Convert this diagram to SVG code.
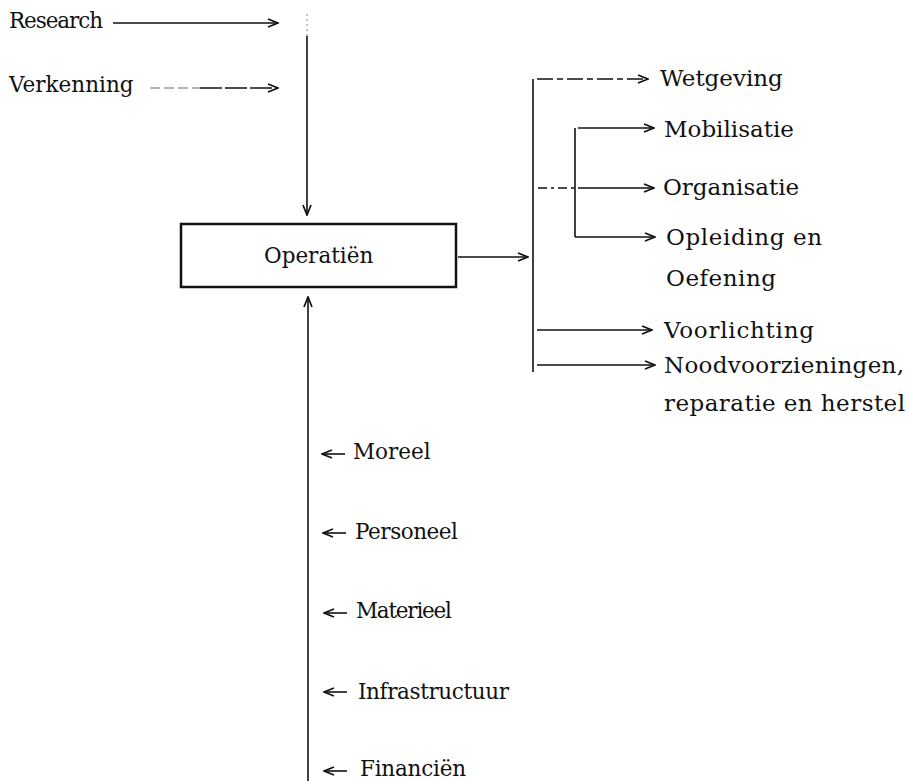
<svg xmlns="http://www.w3.org/2000/svg" width="909" height="781" viewBox="0 0 909 781">
  <defs>
    <marker id="head" viewBox="0 0 12 10" refX="11" refY="5" markerWidth="12" markerHeight="10" markerUnits="userSpaceOnUse" orient="auto">
      <polyline points="1,1 11,5 1,9" fill="none" stroke="#111" stroke-width="1.7" stroke-linejoin="miter"/>
    </marker>
  </defs>
  <style>
    text { font-family: "DejaVu Serif", "Liberation Serif", serif; font-size: 21.5px; fill: #111; }
    .big { font-size: 23px; }
    .ln { stroke: #111; stroke-width: 1.6; fill: none; }
    .arr { stroke: #111; stroke-width: 1.6; fill: none; marker-end: url(#head); }
    .box { fill: #fff; stroke: #111; stroke-width: 2.5; }
  </style>
  <rect width="909" height="781" fill="#fff"/>

  <!-- connectors -->
  <g id="connectors">
    <!-- inputs from the top -->
    <line class="arr" x1="113" y1="23" x2="278" y2="23"/>
    <line x1="150" y1="88" x2="200" y2="88" stroke="#999" stroke-width="1.4" stroke-dasharray="10 4"/>
    <line class="arr" x1="200" y1="88" x2="278" y2="88" stroke-dasharray="22 3"/>
    <line x1="307" y1="14" x2="307" y2="36" stroke="#aaa" stroke-width="1.4" stroke-dasharray="2 3"/>
    <line class="arr" x1="307" y1="36" x2="307" y2="215"/>
    <!-- inputs from below -->
    <line class="arr" x1="308" y1="781" x2="308" y2="297"/>
    <line class="arr" x1="345" y1="454" x2="322" y2="454"/>
    <line class="arr" x1="346" y1="533" x2="323" y2="533"/>
    <line class="arr" x1="347" y1="613" x2="324" y2="613"/>
    <line class="arr" x1="347" y1="692" x2="324" y2="692"/>
    <line class="arr" x1="347" y1="771" x2="324" y2="771"/>
    <!-- output to the bracket -->
    <line class="arr" x1="458" y1="257" x2="528" y2="257"/>
    <line class="ln" x1="533" y1="79" x2="533" y2="372"/>
    <line class="ln" x1="575" y1="128" x2="575" y2="237"/>
    <line class="arr" x1="537" y1="79" x2="648" y2="79" stroke-dasharray="16 4 6 4"/>
    <line class="arr" x1="578" y1="128" x2="654" y2="128"/>
    <line class="ln" x1="538" y1="188" x2="574" y2="188" stroke-dasharray="9 4 3 4"/>
    <line class="arr" x1="578" y1="188" x2="654" y2="188"/>
    <line class="arr" x1="575" y1="237" x2="655" y2="237"/>
    <line class="arr" x1="537" y1="330" x2="652" y2="330"/>
    <line class="arr" x1="537" y1="365" x2="655" y2="365"/>
  </g>

  <g id="research"><text x="9" y="28" textLength="94" lengthAdjust="spacing">Research</text></g>
  <g id="verkenning"><text x="9" y="92">Verkenning</text></g>

  <g id="operatien">
    <rect class="box" x="181" y="224" width="275" height="63"/>
    <text x="264" y="263">Operatiën</text>
  </g>

  <g id="wetgeving"><text class="big" x="660" y="86">Wetgeving</text></g>
  <g id="mobilisatie"><text class="big" x="664" y="137">Mobilisatie</text></g>
  <g id="organisatie"><text class="big" x="663" y="195">Organisatie</text></g>
  <g id="opleiding"><text class="big" x="666" y="245" textLength="156" lengthAdjust="spacing">Opleiding en</text><text class="big" x="666" y="286" textLength="110" lengthAdjust="spacing">Oefening</text></g>
  <g id="voorlichting"><text class="big" x="664" y="338" textLength="150" lengthAdjust="spacing">Voorlichting</text></g>
  <g id="noodvoorzieningen"><text class="big" x="664" y="373" textLength="240" lengthAdjust="spacing">Noodvoorzieningen,</text><text class="big" x="664" y="411" textLength="241" lengthAdjust="spacing">reparatie en herstel</text></g>

  <g id="moreel"><text x="353" y="459">Moreel</text></g>
  <g id="personeel"><text x="355" y="539" textLength="103" lengthAdjust="spacing">Personeel</text></g>
  <g id="materieel"><text x="356" y="618" textLength="96" lengthAdjust="spacing">Materieel</text></g>
  <g id="infrastructuur"><text x="358" y="699" textLength="151" lengthAdjust="spacing">Infrastructuur</text></g>
  <g id="financien"><text x="360" y="776" textLength="106" lengthAdjust="spacing">Financiën</text></g>
</svg>
